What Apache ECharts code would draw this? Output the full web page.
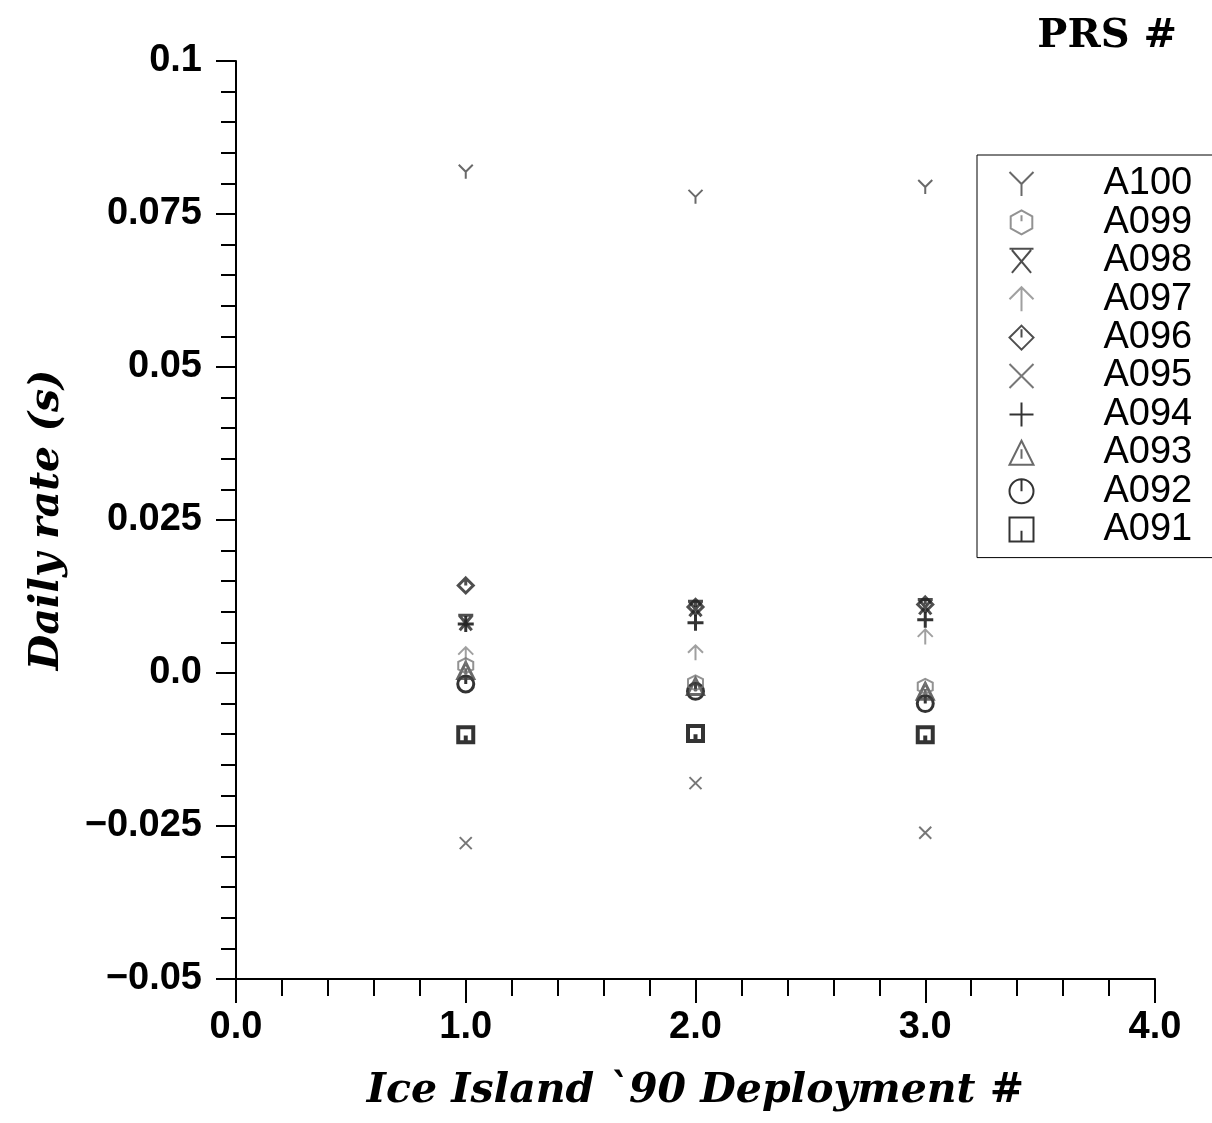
<!DOCTYPE html>
<html>
<head>
<meta charset="utf-8">
<script src="https://cdn.jsdelivr.net/npm/echarts@6/dist/echarts.min.js"></script>
<style>
  html, body { margin: 0; padding: 0; background: #fff; }
  #main { width: 1212px; height: 1123px; }
</style>
</head>
<body>
<div id="main"></div>
<script>
// deployment number on the x axis
var deployments = [1, 2, 3];

// daily rate (s) per PRS unit, one value per deployment
var a100 = [0.0819, 0.0778, 0.0794];
var a099 = [0.0012, -0.0016, -0.0022];
var a098 = [0.0082, 0.0105, 0.0108];
var a097 = [0.0030, 0.0033, 0.0059];
var a096 = [0.0143, 0.0108, 0.0112];
var a095 = [-0.0278, -0.0180, -0.0261];
var a094 = [0.0080, 0.0082, 0.0087];
var a093 = [0.0004, -0.0022, -0.0030];
var a092 = [-0.0018, -0.0030, -0.0050];
var a091 = [-0.0101, -0.0099, -0.0101];

var yTickLabels = ['\u22120.05', '\u22120.025', '0.0', '0.025', '0.05', '0.075', '0.1'];
var xTickLabels = ['0.0', '1.0', '2.0', '3.0', '4.0'];

var yMin = -0.05, yMax = 0.1, yStep = 0.025;

var chart = echarts.init(document.getElementById('main'));

// marker shapes, drawn as outlines
var shapes = {
  A100: 'path://M0,0L10,10L20,0M10,10L10,20',
  A099: 'path://M10,0L19,5L19,15L10,20L1,15L1,5ZM10,4L10,9',
  A098: 'path://M0,0L20,0M2,1L18,20M18,1L2,20',
  A097: 'path://M0,10L10,0L20,10M10,0L10,20',
  A096: 'path://M10,0L20,10L10,20L0,10ZM10,3L10,10',
  A095: 'path://M0,0L20,20M20,0L0,20',
  A094: 'path://M10,0L10,20M0,10L20,10',
  A093: 'path://M10,0L20,20L0,20ZM10,7L10,15',
  A092: 'path://M10,1A9,9,0,1,1,9.99,1ZM10,1L10,10',
  A091: 'path://M0,0L20,0L20,20L0,20ZM10,20L10,11'
};

function makeSeries(name, values, color, width, size) {
  return {
    name: name,
    type: 'scatter',
    symbol: shapes[name],
    symbolSize: size,
    itemStyle: { color: 'none', borderColor: color, borderWidth: width },
    data: deployments.map(function (d, i) { return [d, values[i]]; })
  };
}

var axisNameStyle = {
  fontFamily: 'DejaVu Serif', fontStyle: 'italic', fontWeight: 'bold', fontSize: 41, color: '#000'
};

var option = {
  animation: false,
  backgroundColor: '#fff',
  title: {
    text: 'PRS #',
    right: 30,
    top: 12,
    textStyle: { fontFamily: 'DejaVu Serif', fontWeight: 'bold', fontSize: 40, color: '#000' }
  },
  legend: {
    orient: 'vertical',
    left: 977,
    top: 155,
    borderColor: '#000',
    borderWidth: 1,
    borderRadius: 0,
    padding: [10, 40, 9, 30],
    itemWidth: 24,
    itemHeight: 24,
    itemGap: 0.4,
    textStyle: { fontFamily: 'Liberation Sans', fontSize: 38, color: '#000', padding: [0, 0, 0, 65] },
    data: ['A100', 'A099', 'A098', 'A097', 'A096', 'A095', 'A094', 'A093', 'A092', 'A091']
  },
  grid: { left: 236, right: 57, top: 61, bottom: 144 },
  xAxis: {
    type: 'value',
    min: 0,
    max: 4,
    interval: 1,
    name: 'Ice Island `90 Deployment #',
    nameLocation: 'middle',
    nameGap: 92,
    nameTextStyle: axisNameStyle,
    axisLine: { onZero: false, lineStyle: { color: '#000', width: 2 } },
    axisTick: { inside: false, length: 24, lineStyle: { color: '#000', width: 2 } },
    minorTick: { show: true, splitNumber: 5, length: 17, lineStyle: { color: '#000', width: 2 } },
    splitLine: { show: false },
    axisLabel: {
      margin: 30,
      fontFamily: 'Liberation Sans',
      fontWeight: 'bold',
      fontSize: 38,
      color: '#000',
      formatter: function (v) { return xTickLabels[Math.round(v)]; }
    }
  },
  yAxis: {
    type: 'value',
    min: yMin,
    max: yMax,
    interval: yStep,
    name: 'Daily rate (s)',
    nameLocation: 'middle',
    nameGap: 168,
    nameTextStyle: axisNameStyle,
    axisLine: { onZero: false, lineStyle: { color: '#000', width: 2 } },
    axisTick: { inside: false, length: 20, lineStyle: { color: '#000', width: 2 } },
    minorTick: { show: true, splitNumber: 5, length: 15, lineStyle: { color: '#000', width: 2 } },
    splitLine: { show: false },
    axisLabel: {
      margin: 34,
      fontFamily: 'Liberation Sans',
      fontWeight: 'bold',
      fontSize: 38,
      color: '#000',
      formatter: function (v) { return yTickLabels[Math.round((v - yMin) / yStep)]; }
    }
  },
  series: [
    makeSeries('A091', a091, '#000', 4, 15),
    makeSeries('A092', a092, '#000', 3, 16),
    makeSeries('A093', a093, '#444', 3, 16),
    makeSeries('A094', a094, '#000', 3, 16),
    makeSeries('A095', a095, '#555', 2, 12),
    makeSeries('A096', a096, '#222', 3, 15),
    makeSeries('A097', a097, '#888', 2, 15),
    makeSeries('A098', a098, '#222', 3, 15),
    makeSeries('A099', a099, '#777', 2, 15),
    makeSeries('A100', a100, '#444', 2, 14)
  ]
};

chart.setOption(option);
</script>
</body>
</html>
